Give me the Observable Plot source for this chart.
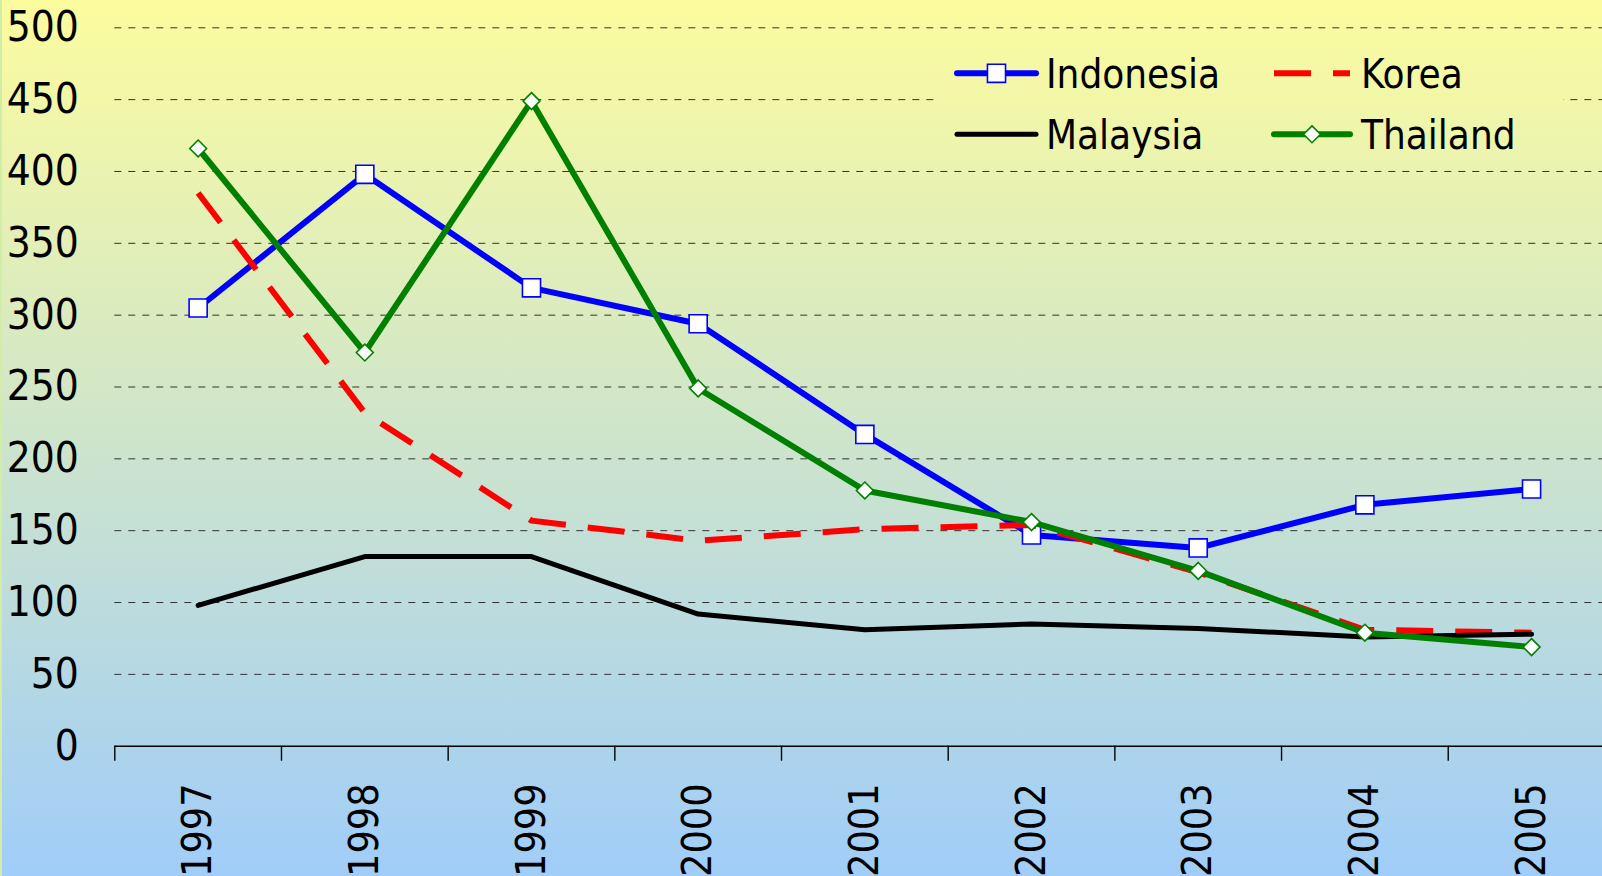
<!DOCTYPE html>
<html>
<head>
<meta charset="utf-8">
<script src="https://cdn.jsdelivr.net/npm/d3@7"></script>
<script src="https://cdn.jsdelivr.net/npm/@observablehq/plot@0.6"></script>
<style>
  html, body { margin: 0; padding: 0; }
  body { width: 1602px; height: 876px; overflow: hidden; }
  #chart {
    position: relative; width: 1602px; height: 876px;
    background: linear-gradient(to bottom, #fcfc9e 0px, #a0cdf9 876px);
    box-shadow: inset 2px 0 0 #d2eea6;
  }
  #chart svg { display: block; }
</style>
</head>
<body>
<div id="chart"></div>
<script>
// ---- data ----
const years = [1997, 1998, 1999, 2000, 2001, 2002, 2003, 2004, 2005];
const indonesia = [305, 398, 319, 294, 217, 147, 138, 168, 179];
const korea     = [385, 232, 157, 143, 151, 154, 121, 81, 79];
const malaysia  = [98, 132, 132, 92, 81, 85, 82, 76, 78];
const thailand  = [416, 274, 449, 249, 178, 156, 122, 79, 69];
const yTicks = [0, 50, 100, 150, 200, 250, 300, 350, 400, 450, 500];
const seriesNames = ["Indonesia", "Korea", "Malaysia", "Thailand"];

const rows = vals => years.map((yr, i) => ({year: yr, value: vals[i]}));
const boundaries = [...years.map(y => y - 0.5), years[years.length - 1] + 0.5];

const FONT = '"DejaVu Sans Condensed", "DejaVu Sans", sans-serif';
const BLUE = "#0000ff", RED = "#ff0000", BLACK = "#000000", GREEN = "#008000";
const SQ_R = 10.2, DI_R = 7.6;

const plot = Plot.plot({
  width: 1602,
  height: 876,
  marginLeft: 114.3, marginRight: 0, marginTop: 27.3, marginBottom: 130.3,
  x: {domain: [1996.5, 2005.5], range: [114.3, 1614.4]},
  y: {domain: [0, 500], range: [745.7, 27.3]},
  style: {background: "transparent", fontFamily: FONT, overflow: "hidden", fontStretch: "condensed"},
  marks: [
    Plot.ruleY(yTicks.filter(v => v > 0), {stroke: "#333", strokeWidth: 1, strokeDasharray: "7,7"}),
    Plot.axisY(yTicks, {anchor: "left", tickSize: 0, tickPadding: 36, fontSize: 42, fill: "#000", label: null, tickFormat: d => String(d)}),
    Plot.ruleY([0], {stroke: "#000", strokeWidth: 1.6}),
    Plot.axisX(boundaries, {anchor: "bottom", tickSize: 15, stroke: "#000", strokeWidth: 1.4, tickFormat: () => "", label: null}),
    Plot.axisX(years, {anchor: "bottom", tickSize: 0, tickPadding: 37, tickRotate: -90, fontSize: 41, fill: "#000", label: null, tickFormat: d => String(d)}),
    // Indonesia
    Plot.line(rows(indonesia), {x: "year", y: "value", stroke: BLUE, strokeWidth: 6}),
    Plot.dot(rows(indonesia), {x: "year", y: "value", symbol: "square", r: SQ_R, fill: "#fff", stroke: BLUE, strokeWidth: 1.6}),
    // Korea
    Plot.line(rows(korea), {x: "year", y: "value", stroke: RED, strokeWidth: 6, strokeDasharray: "37,22", strokeLinecap: "butt"}),
    // Malaysia
    Plot.line(rows(malaysia), {x: "year", y: "value", stroke: BLACK, strokeWidth: 5}),
    // Thailand
    Plot.line(rows(thailand), {x: "year", y: "value", stroke: GREEN, strokeWidth: 6}),
    Plot.dot(rows(thailand), {x: "year", y: "value", symbol: "diamond2", r: DI_R, fill: "#fff", stroke: GREEN, strokeWidth: 1.6})
  ]
});

document.getElementById("chart").appendChild(plot);

// ---- legend (drawn inside the svg) ----
const svg = d3.select(plot);
const defs = svg.insert("defs", ":first-child");
const grad = defs.append("linearGradient").attr("id", "bgGrad")
  .attr("gradientUnits", "userSpaceOnUse").attr("x1", 0).attr("y1", 0).attr("x2", 0).attr("y2", 876);
grad.append("stop").attr("offset", 0).attr("stop-color", "#fcfc9e");
grad.append("stop").attr("offset", 1).attr("stop-color", "#a0cdf9");

const lg = svg.append("g").attr("class", "legend").attr("text-anchor", "start");
lg.append("rect").attr("x", 935).attr("y", 40).attr("width", 628).attr("height", 124).attr("fill", "url(#bgGrad)");

const legendItems = [
  {name: seriesNames[0], color: BLUE, col: 0, row: 0, marker: "square", dash: null, w: 6},
  {name: seriesNames[1], color: RED, col: 1, row: 0, marker: null, dash: "37,22", w: 6},
  {name: seriesNames[2], color: BLACK, col: 0, row: 1, marker: null, dash: null, w: 5},
  {name: seriesNames[3], color: GREEN, col: 1, row: 1, marker: "diamond", dash: null, w: 6}
];
const colX = [[957, 1036, 1046], [1274, 1350, 1361]];
const rowY = [73.3, 134.3];
legendItems.forEach(it => {
  const [x1, x2, tx] = colX[it.col];
  const y = rowY[it.row];
  const ln = lg.append("line").attr("x1", x1).attr("x2", x2).attr("y1", y).attr("y2", y)
    .attr("stroke", it.color).attr("stroke-width", it.w)
    .attr("stroke-linecap", it.dash ? "butt" : "round");
  if (it.dash) ln.attr("stroke-dasharray", it.dash);
  const cx = (x1 + x2) / 2;
  if (it.marker === "square") {
    lg.append("path").attr("transform", `translate(${cx},${y})`)
      .attr("d", d3.symbol(d3.symbolSquare, SQ_R * SQ_R * Math.PI)())
      .attr("fill", "#fff").attr("stroke", it.color).attr("stroke-width", 1.6);
  } else if (it.marker === "diamond") {
    lg.append("path").attr("transform", `translate(${cx},${y})`)
      .attr("d", d3.symbol(d3.symbolDiamond2, DI_R * DI_R * Math.PI)())
      .attr("fill", "#fff").attr("stroke", it.color).attr("stroke-width", 1.6);
  }
  lg.append("text").attr("x", tx).attr("y", y).attr("dy", "0.36em")
    .attr("text-anchor", "start")
    .attr("font-family", FONT).attr("font-stretch", "condensed").attr("font-size", 40).attr("fill", "#000")
    .text(it.name);
});
</script>
</body>
</html>
